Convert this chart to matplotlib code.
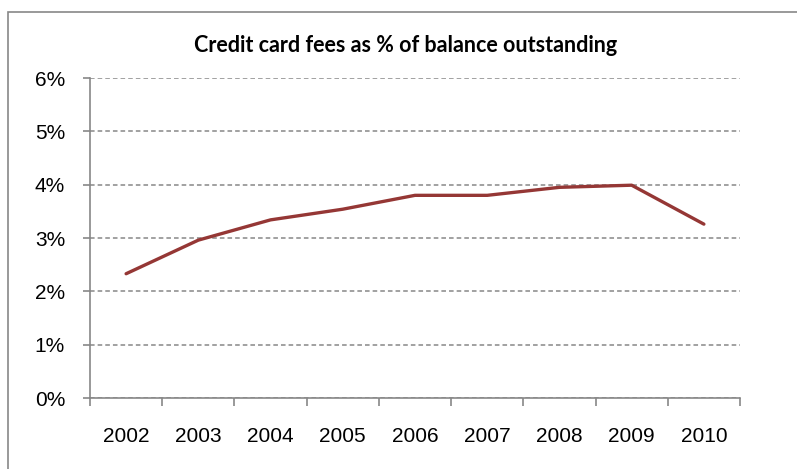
import matplotlib
matplotlib.use("Agg")
import matplotlib.pyplot as plt
from matplotlib.patches import Rectangle
from matplotlib.ticker import FuncFormatter, FixedLocator

years = ["2002", "2003", "2004", "2005", "2006", "2007", "2008", "2009", "2010"]
fee_pct = [2.33, 2.96, 3.34, 3.54, 3.80, 3.80, 3.95, 3.99, 3.26]
y_ticks = [0, 1, 2, 3, 4, 5, 6]

LINE_RED = "#953735"
AXIS_GRAY = "#878787"

W, H = 797, 469
fig = plt.figure(figsize=(W / 100, H / 100), dpi=100)
fig.patch.set_facecolor("white")

# chart-area frame, runs off the right and bottom edges
fig.patches.append(Rectangle((8 / W, -0.1), 1.0, (H - 12) / H + 0.1,
                             transform=fig.transFigure, fill=False,
                             edgecolor=AXIS_GRAY, linewidth=1.2))

ax = fig.add_axes([90 / W, (H - 398) / H, 650 / W, 320 / H])
x = list(range(len(years)))
ax.plot(x, fee_pct, color=LINE_RED, linewidth=2.4, solid_capstyle="round",
        zorder=3)

ax.set_xlim(-0.5, len(years) - 0.5)
ax.set_ylim(0, 6)

# year labels centred on categories, tick marks on the boundaries
ax.xaxis.set_major_locator(FixedLocator([i - 0.5 for i in range(len(years) + 1)]))
ax.xaxis.set_minor_locator(FixedLocator(x))
ax.set_xticklabels([], minor=False)
ax.set_xticklabels(years, minor=True)
ax.tick_params(axis="x", which="major", length=6, width=1.2, color=AXIS_GRAY,
               direction="out")
ax.tick_params(axis="x", which="minor", length=0, pad=21, labelsize=15)

ax.set_yticks(y_ticks)
ax.yaxis.set_major_formatter(FuncFormatter(lambda v, _: f"{v:.0f}%"))
ax.tick_params(axis="y", length=5, width=1.2, color=AXIS_GRAY, pad=13,
               labelsize=15)
for lab in ax.get_xticklabels(minor=True) + ax.get_yticklabels():
    lab.set_fontfamily("Liberation Sans")

ax.yaxis.grid(True, color=AXIS_GRAY, linewidth=1.1, linestyle=(0, (3, 2)))
ax.set_axisbelow(True)
for side in ("top", "right"):
    ax.spines[side].set_visible(False)
for side in ("left", "bottom"):
    ax.spines[side].set_color(AXIS_GRAY)
    ax.spines[side].set_linewidth(1.2)

fig.text(406 / W, 1 - 46 / H, "Credit card fees as % of balance outstanding",
         ha="center", va="center", fontsize=15.5, fontweight="bold",
         family="Lato")

fig.savefig("out.png", dpi=100, facecolor="white")
